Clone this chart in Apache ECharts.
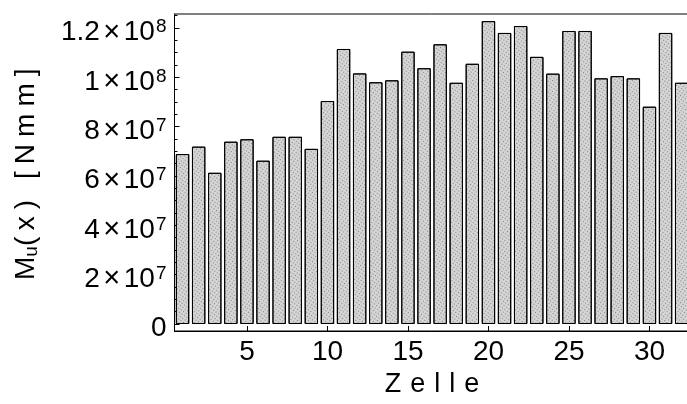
<!DOCTYPE html>
<html>
<head>
<meta charset="utf-8">
<script src="https://cdn.jsdelivr.net/npm/echarts@6.0.0/dist/echarts.min.js"></script>
<style>
html,body{margin:0;padding:0;background:#fff;}
#chart{width:687px;height:404px;}
</style>
</head>
<body>
<div id="chart"></div>
<script>
// ---- data ----
const categories = ['1','2','3','4','5','6','7','8','9','10','11','12','13','14','15','16',
                    '17','18','19','20','21','22','23','24','25','26','27','28','29','30','31','32'];
const momentValues = [6.89e7, 7.19e7, 6.13e7, 7.39e7, 7.49e7, 6.62e7, 7.59e7, 7.59e7,
                      7.10e7, 9.04e7, 1.115e8, 1.016e8, 9.80e7, 9.88e7, 1.104e8, 1.037e8,
                      1.134e8, 9.78e7, 1.055e8, 1.228e8, 1.180e8, 1.208e8, 1.083e8, 1.015e8,
                      1.188e8, 1.188e8, 9.96e7, 1.005e8, 9.96e7, 8.81e7, 1.180e8, 9.78e7];
const xTickLabels = ['5','10','15','20','25','30'];
const yTickValues = [0, 2e7, 4e7, 6e7, 8e7, 1e8, 1.2e8];
const yTickMantissa = ['0', '2', '4', '6', '8', '1', '1.2'];
const yTickExponent = ['', '7', '7', '7', '7', '8', '8'];
const yMinorTickValues = [0, 5e6, 1e7, 1.5e7, 2e7, 2.5e7, 3e7, 3.5e7, 4e7, 4.5e7, 5e7, 5.5e7,
                          6e7, 6.5e7, 7e7, 7.5e7, 8e7, 8.5e7, 9e7, 9.5e7, 1e8, 1.05e8, 1.1e8,
                          1.15e8, 1.2e8, 1.25e8];
const yMin = -2.84e6, yMax = 1.2569e8;

const FONT = "'Liberation Sans', Arial, Helvetica, sans-serif";
const chart = echarts.init(document.getElementById('chart'), null, {renderer: 'canvas'});

const option = {
  animation: false,
  backgroundColor: '#ffffff',
  textStyle: {fontFamily: FONT, color: '#000'},
  grid: {
    left: 174.5, top: 14, right: -2.7, bottom: 73,
    show: true, borderColor: '#000', borderWidth: 1,
    backgroundColor: 'transparent',
    outerBoundsMode: 'none', containLabel: false
  },
  xAxis: {
    type: 'category',
    data: categories,
    boundaryGap: true,
    axisLine: {show: true, onZero: false, lineStyle: {color: '#000', width: 1}},
    axisTick: {
      show: true, inside: true, length: 5, alignWithLabel: true,
      interval: function (idx, val) { return xTickLabels.indexOf(val) >= 0; },
      lineStyle: {color: '#000'}
    },
    axisLabel: {
      show: true, margin: 7, fontSize: 28, color: '#000', fontFamily: FONT,
      interval: function (idx, val) { return xTickLabels.indexOf(val) >= 0; }
    },
    splitLine: {show: false},
    name: '{z|Z}{z|e}{z|l}{z|l}{z|e}',
    nameLocation: 'middle',
    nameGap: 30,
    nameTextStyle: {
      fontFamily: FONT, color: '#000',
      rich: {z: {fontSize: 27, fontFamily: FONT, color: '#000', padding: [0, 4.5, 0, 4.5]}}
    }
  },
  yAxis: [{
    type: 'value',
    min: yMin, max: yMax,
    axisLine: {show: true, lineStyle: {color: '#000', width: 1}},
    axisTick: {show: true, inside: true, length: 5, customValues: yTickValues, lineStyle: {color: '#000'}},
    splitLine: {show: false},
    axisLabel: {
      show: true, margin: 8, customValues: yTickValues,
      padding: [9, 0, 0, 0],
      formatter: function (value) {
        let i = -1;
        for (let k = 0; k < yTickValues.length; k++) { if (Math.abs(yTickValues[k] - value) < 1) i = k; }
        if (i < 0) return '';
        if (yTickExponent[i] === '') return '{m|' + yTickMantissa[i] + '}';
        return '{m|' + yTickMantissa[i] + '}{x|×}{m|10}{e|' + yTickExponent[i] + '}';
      },
      rich: {
        m: {fontSize: 28, fontFamily: FONT, color: '#000', lineHeight: 30},
        x: {fontSize: 29, fontFamily: FONT, color: '#000', lineHeight: 30, padding: [0, 3.5, 0, 3.5]},
        e: {fontSize: 19, fontFamily: FONT, color: '#000', lineHeight: 10, verticalAlign: 'top', padding: [0, 0, 0, 1]}
      }
    },
    name: '{c0|M}{s|u}{cl|(}{c|x}{c|)}{g| }{c|[}{c|N}{c|m}{c|m}{c|]}',
    nameLocation: 'middle',
    nameGap: 133,
    nameTextStyle: {
      fontFamily: FONT, color: '#000',
      rich: {
        c0: {fontSize: 28, fontFamily: FONT, color: '#000', lineHeight: 30},
        s: {fontSize: 19, fontFamily: FONT, color: '#000', lineHeight: 10, verticalAlign: 'bottom'},
        cl: {fontSize: 28, fontFamily: FONT, color: '#000', lineHeight: 30, padding: [0, 3, 0, 0]},
        c: {fontSize: 28, fontFamily: FONT, color: '#000', lineHeight: 30, padding: [0, 3.5, 0, 3.5]},
        g: {fontSize: 28, fontFamily: FONT, color: '#000', lineHeight: 30, width: 14}
      }
    }
  }, {
    type: 'value',
    position: 'left',
    min: yMin, max: yMax,
    axisLine: {show: false},
    axisTick: {show: true, inside: true, length: 3, customValues: yMinorTickValues, lineStyle: {color: '#000'}},
    axisLabel: {show: false},
    splitLine: {show: false}
  }],
  series: [{
    type: 'bar',
    data: momentValues,
    yAxisIndex: 0,
    barCategoryGap: '17%',
    itemStyle: {
      color: '#d4d4d4', borderColor: '#000', borderWidth: 1,
      decal: {
        symbol: 'rect', symbolSize: 1, color: 'rgba(50,50,50,0.5)',
        dashArrayX: [1, 2], dashArrayY: [1, 2], rotation: 0.6
      }
    }
  }],
  aria: {enabled: false, decal: {show: false}}
};
chart.setOption(option);
</script>
</body>
</html>
